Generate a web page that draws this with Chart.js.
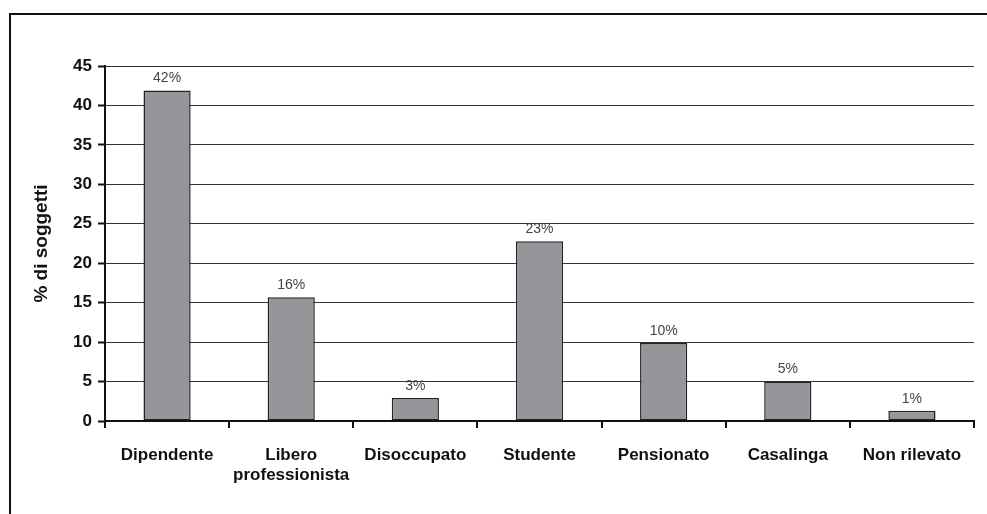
<!DOCTYPE html>
<html>
<head>
<meta charset="utf-8">
<script src="https://cdn.jsdelivr.net/npm/chart.js@4.4.1/dist/chart.umd.min.js"></script>
<style>
	html, body { margin: 0; padding: 0; background: #fff; }
	#wrap { position: relative; width: 987px; height: 514px; }
	#frame { position: absolute; left: 9px; top: 13px; right: 0; bottom: 0; border-top: 2px solid #111; border-left: 2px solid #111; }
	canvas { position: absolute; left: 0; top: 0; }
</style>
</head>
<body>
<div id="wrap">
	<div id="frame"></div>
	<canvas id="myChart" width="987" height="514"></canvas>
</div>
<script>
// categories and percentages
const categories = ['Dipendente', ['Libero', 'professionista'], 'Disoccupato', 'Studente', 'Pensionato', 'Casalinga', 'Non rilevato'];
const percentages = [41.9, 15.7, 2.9, 22.8, 9.9, 5.0, 1.3];
const yTicks = [0, 5, 10, 15, 20, 25, 30, 35, 40, 45];

const fontFamily = '"Liberation Sans", Arial, Helvetica, sans-serif';

// write the % above each bar
const barLabels = {
	id: 'barLabels',
	afterDatasetsDraw(chart) {
		const ctx = chart.ctx;
		const meta = chart.getDatasetMeta(0);
		ctx.save();
		ctx.font = '14px ' + fontFamily;
		ctx.fillStyle = '#444';
		ctx.textAlign = 'center';
		ctx.textBaseline = 'bottom';
		meta.data.forEach((bar, i) => {
			ctx.fillText(Math.round(percentages[i]) + '%', bar.x, bar.y - 5);
		});
		ctx.restore();
	}
};

const ctx = document.getElementById('myChart').getContext('2d');
const myChart = new Chart(ctx, {
	type: 'bar',
	data: {
		labels: categories,
		datasets: [
			{
				data: percentages,
				backgroundColor: '#969599',
				borderColor: '#222',
				borderWidth: 1.5,
				borderSkipped: false,
				inflateAmount: 0,
				barPercentage: 0.38,
				categoryPercentage: 1
			}
		]
	},
	options: {
		responsive: false,
		animation: false,
		layout: { padding: { top: 66, right: 13, left: 0, bottom: 0 } },
		plugins: {
			legend: { display: false },
			tooltip: { enabled: false }
		},
		scales: {
			x: {
				offset: true,
				grid: {
					offset: true,
					drawOnChartArea: false,
					drawTicks: true,
					tickLength: 7,
					color: '#111',
					lineWidth: 2
				},
				border: { color: '#111', width: 2 },
				ticks: {
					color: '#111',
					padding: 17,
					maxRotation: 0,
					autoSkip: false,
					font: { family: fontFamily, size: 17, weight: 'bold', lineHeight: 1.2 }
				},
				afterFit(scale) { scale.height = 93; }
			},
			y: {
				min: 0,
				max: 45,
				afterBuildTicks(scale) { scale.ticks = yTicks.map((v) => ({ value: v })); },
				grid: {
					color: '#333',
					lineWidth: 1,
					drawTicks: true,
					tickLength: 7,
					tickColor: '#111',
					tickWidth: 2
				},
				border: { color: '#111', width: 2 },
				ticks: {
					color: '#111',
					padding: 6,
					font: { family: fontFamily, size: 17, weight: 'bold' }
				},
				title: {
					display: true,
					text: '% di soggetti',
					color: '#111',
					padding: { top: 30, bottom: 0 },
					font: { family: fontFamily, size: 19, weight: 'bold' }
				},
				afterFit(scale) { scale.width = 105; }
			}
		}
	},
	plugins: [barLabels]
});
</script>
</body>
</html>
